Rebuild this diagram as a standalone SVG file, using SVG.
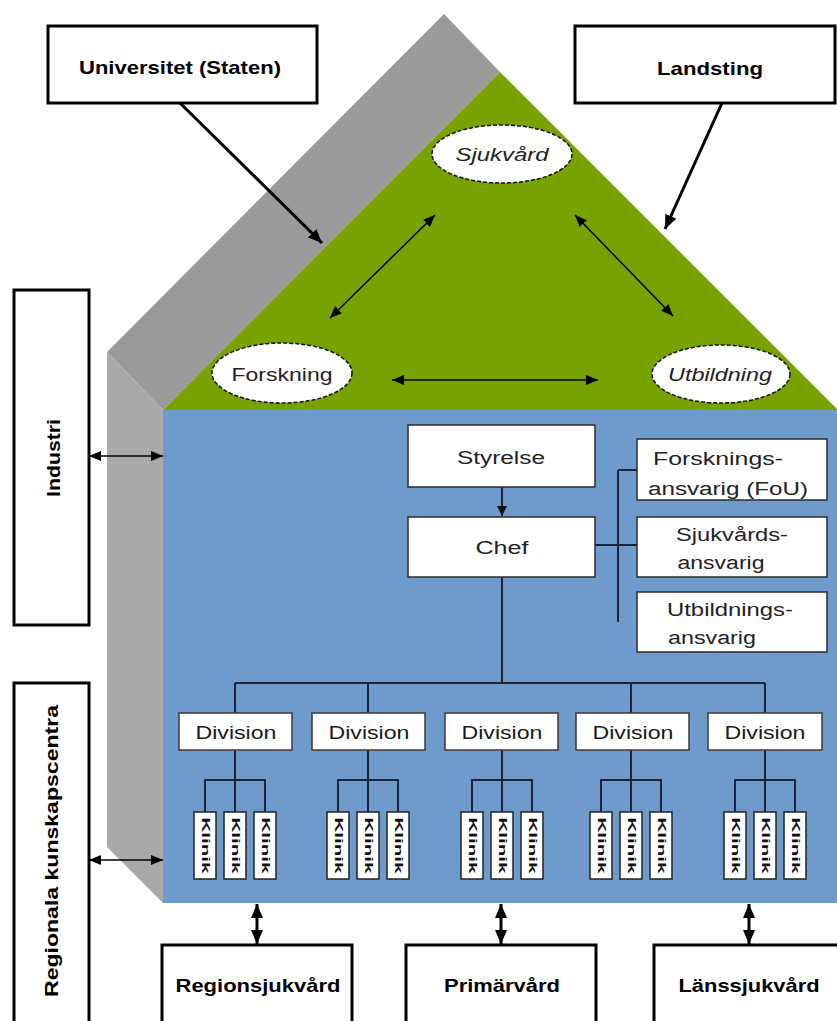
<svg xmlns="http://www.w3.org/2000/svg" width="837" height="1021" viewBox="0 0 837 1021">
<defs>
<style>
.bbox{fill:#fff;stroke:#000;stroke-width:3}
.btxt{font-family:"Liberation Sans",Arial,sans-serif;font-weight:bold;font-size:19px;fill:#000;text-anchor:middle}
.obox{fill:#fff;stroke:#2b2b2b;stroke-width:1.5}
.otxt{font-family:"Liberation Sans",Arial,sans-serif;font-size:18px;fill:#222;text-anchor:middle}
.dbox{fill:#fff;stroke:#3a3a3a;stroke-width:1.5}
.dtxt{font-family:"Liberation Sans",Arial,sans-serif;font-size:19px;fill:#1a1a1a;text-anchor:middle}
.cbox{fill:#fff;stroke:#222;stroke-width:1.5}
.ctxt{font-family:"Liberation Sans",Arial,sans-serif;font-size:11px;font-weight:bold;fill:#111;text-anchor:middle}
.ell{fill:#fff;stroke:#111;stroke-width:1.5;stroke-dasharray:4 2}
.etxt{font-family:"Liberation Sans",Arial,sans-serif;font-size:18px;fill:#222;text-anchor:middle}
.ln{stroke:#1b2438;stroke-width:2;fill:none}
.thin{stroke:#000;stroke-width:1.5;fill:none}
.thick{stroke:#000;stroke-width:3;fill:none}
</style>
<marker id="ah" viewBox="0 0 12 10" refX="12" refY="5" markerWidth="12" markerHeight="10" markerUnits="userSpaceOnUse" orient="auto-start-reverse"><path d="M0,0 L12,5 L0,10 z" fill="#000"/></marker>
<marker id="ahL" viewBox="0 0 14 12" refX="14" refY="6" markerWidth="14" markerHeight="12" markerUnits="userSpaceOnUse" orient="auto-start-reverse"><path d="M0,0 L14,6 L0,12 z" fill="#000"/></marker>
<marker id="ahS" viewBox="0 0 10 10" refX="10" refY="5" markerWidth="10" markerHeight="10" markerUnits="userSpaceOnUse" orient="auto-start-reverse"><path d="M0,0 L10,5 L0,10 z" fill="#111"/></marker>
</defs>

<g id="house">
<polygon points="107,352 444,14 500,72 163,410" fill="#9a9a9a"/>
<polygon points="107,352 163,410 163,903 107,847" fill="#a9a9a9"/>
<polygon points="500,72 838,410 163,410" fill="#77a200"/>
<rect x="163" y="410" width="675" height="493" fill="#6e9bcb"/>
</g>

<g id="connectors">
<line class="thick" x1="180" y1="103" x2="322" y2="243" marker-end="url(#ahL)"/>
<line class="thick" x1="722" y1="103" x2="665" y2="229" stroke-width="3.5" marker-end="url(#ahL)"/>
<line class="thin" x1="435" y1="215" x2="330" y2="318" marker-start="url(#ah)" marker-end="url(#ah)"/>
<line class="thin" x1="575" y1="215" x2="673" y2="316" marker-start="url(#ah)" marker-end="url(#ah)"/>
<line class="thin" x1="392" y1="380" x2="598" y2="380" marker-start="url(#ah)" marker-end="url(#ah)"/>
<line class="thin" x1="89" y1="456" x2="163" y2="456" stroke-width="2" marker-start="url(#ah)" marker-end="url(#ah)"/>
<line class="thin" x1="89" y1="860" x2="163" y2="860" stroke-width="2.5" marker-start="url(#ah)" marker-end="url(#ah)"/>
<line class="thick" x1="257" y1="904" x2="257" y2="944" marker-start="url(#ahL)" marker-end="url(#ahL)"/>
<line class="thick" x1="501" y1="904" x2="501" y2="944" marker-start="url(#ahL)" marker-end="url(#ahL)"/>
<line class="thick" x1="749" y1="904" x2="749" y2="944" marker-start="url(#ahL)" marker-end="url(#ahL)"/>
<line class="ln" x1="502" y1="487" x2="502" y2="516" marker-end="url(#ahS)"/>
<line class="ln" x1="502" y1="577" x2="502" y2="683"/>
<line class="ln" x1="618" y1="470" x2="618" y2="622"/>
<line class="ln" x1="618" y1="470" x2="637" y2="470"/>
<line class="ln" x1="595" y1="545" x2="637" y2="545"/>
<line class="ln" x1="235" y1="683" x2="765" y2="683"/>
<path class="ln" d="M235,683V713M368,683V713M631,683V713M765,683V713"/>
<path class="ln" d="M235,750V812M205,812V780H265V812M368,750V812M338,812V780H398V812M502,750V812M472,812V780H532V812M631,750V812M601,812V780H661V812M765,750V812M735,812V780H795V812"/>
</g>

<g id="node-universitet"><rect class="bbox" x="48" y="26" width="269" height="77"/><text class="btxt" x="180" y="74" textLength="202" lengthAdjust="spacingAndGlyphs">Universitet (Staten)</text></g>
<g id="node-landsting"><rect class="bbox" x="575" y="26" width="260" height="77"/><text class="btxt" x="710" y="75" textLength="106" lengthAdjust="spacingAndGlyphs">Landsting</text></g>

<g id="node-sjukvard"><ellipse class="ell" cx="502" cy="154" rx="70" ry="29"/><text class="etxt" x="502" y="161" font-style="italic" textLength="93" lengthAdjust="spacingAndGlyphs">Sjukvård</text></g>
<g id="node-forskning"><ellipse class="ell" cx="282" cy="373" rx="70" ry="30"/><text class="etxt" x="282" y="381" textLength="101" lengthAdjust="spacingAndGlyphs">Forskning</text></g>
<g id="node-utbildning"><ellipse class="ell" cx="721" cy="374" rx="69" ry="29"/><text class="etxt" x="720" y="381" font-style="italic" textLength="104" lengthAdjust="spacingAndGlyphs">Utbildning</text></g>

<g id="node-industri"><rect class="bbox" x="14" y="290" width="75" height="335"/><text class="btxt" transform="translate(60,458) rotate(-90)" textLength="78" lengthAdjust="spacingAndGlyphs">Industri</text></g>
<g id="node-regionala"><rect class="bbox" x="14" y="683" width="75" height="360"/><text class="btxt" transform="translate(58,851) rotate(-90)" textLength="292" lengthAdjust="spacingAndGlyphs">Regionala kunskapscentra</text></g>

<g id="node-styrelse"><rect class="obox" x="408" y="425" width="187" height="62"/><text class="otxt" x="501" y="464" font-size="19" textLength="88" lengthAdjust="spacingAndGlyphs">Styrelse</text></g>
<g id="node-chef"><rect class="obox" x="408" y="517" width="187" height="60"/><text class="otxt" x="502" y="554" font-size="19" textLength="53" lengthAdjust="spacingAndGlyphs">Chef</text></g>
<g id="node-forskningsansvarig"><rect class="obox" x="637" y="439" width="190" height="61"/><text class="otxt" x="718" y="465" textLength="130" lengthAdjust="spacingAndGlyphs">Forsknings-</text><text class="otxt" x="728" y="495" textLength="160" lengthAdjust="spacingAndGlyphs">ansvarig (FoU)</text></g>
<g id="node-sjukvardsansvarig"><rect class="obox" x="637" y="517" width="190" height="60"/><text class="otxt" x="732" y="541" textLength="112" lengthAdjust="spacingAndGlyphs">Sjukvårds-</text><text class="otxt" x="721" y="569" textLength="87" lengthAdjust="spacingAndGlyphs">ansvarig</text></g>
<g id="node-utbildningsansvarig"><rect class="obox" x="637" y="592" width="190" height="60"/><text class="otxt" x="730" y="616" textLength="126" lengthAdjust="spacingAndGlyphs">Utbildnings-</text><text class="otxt" x="712" y="644" textLength="88" lengthAdjust="spacingAndGlyphs">ansvarig</text></g>

<g id="node-division-1"><rect class="dbox" x="179" y="713" width="113" height="37"/><text class="dtxt" x="236" y="739" textLength="81" lengthAdjust="spacingAndGlyphs">Division</text></g>
<g id="node-division-2"><rect class="dbox" x="312" y="713" width="113" height="37"/><text class="dtxt" x="369" y="739" textLength="81" lengthAdjust="spacingAndGlyphs">Division</text></g>
<g id="node-division-3"><rect class="dbox" x="445" y="713" width="113" height="37"/><text class="dtxt" x="502" y="739" textLength="81" lengthAdjust="spacingAndGlyphs">Division</text></g>
<g id="node-division-4"><rect class="dbox" x="576" y="713" width="113" height="37"/><text class="dtxt" x="633" y="739" textLength="81" lengthAdjust="spacingAndGlyphs">Division</text></g>
<g id="node-division-5"><rect class="dbox" x="708" y="713" width="114" height="37"/><text class="dtxt" x="765" y="739" textLength="81" lengthAdjust="spacingAndGlyphs">Division</text></g>

<g id="node-klinik-1-1"><rect class="cbox" x="194" y="812" width="22" height="67"/><text class="ctxt" transform="translate(201.5,845.5) rotate(90)" textLength="56" lengthAdjust="spacingAndGlyphs">Klinik</text></g>
<g id="node-klinik-1-2"><rect class="cbox" x="224" y="812" width="22" height="67"/><text class="ctxt" transform="translate(231.5,845.5) rotate(90)" textLength="56" lengthAdjust="spacingAndGlyphs">Klinik</text></g>
<g id="node-klinik-1-3"><rect class="cbox" x="254" y="812" width="22" height="67"/><text class="ctxt" transform="translate(261.5,845.5) rotate(90)" textLength="56" lengthAdjust="spacingAndGlyphs">Klinik</text></g>
<g id="node-klinik-2-1"><rect class="cbox" x="327" y="812" width="22" height="67"/><text class="ctxt" transform="translate(334.5,845.5) rotate(90)" textLength="56" lengthAdjust="spacingAndGlyphs">Klinik</text></g>
<g id="node-klinik-2-2"><rect class="cbox" x="357" y="812" width="22" height="67"/><text class="ctxt" transform="translate(364.5,845.5) rotate(90)" textLength="56" lengthAdjust="spacingAndGlyphs">Klinik</text></g>
<g id="node-klinik-2-3"><rect class="cbox" x="387" y="812" width="22" height="67"/><text class="ctxt" transform="translate(394.5,845.5) rotate(90)" textLength="56" lengthAdjust="spacingAndGlyphs">Klinik</text></g>
<g id="node-klinik-3-1"><rect class="cbox" x="461" y="812" width="22" height="67"/><text class="ctxt" transform="translate(468.5,845.5) rotate(90)" textLength="56" lengthAdjust="spacingAndGlyphs">Klinik</text></g>
<g id="node-klinik-3-2"><rect class="cbox" x="491" y="812" width="22" height="67"/><text class="ctxt" transform="translate(498.5,845.5) rotate(90)" textLength="56" lengthAdjust="spacingAndGlyphs">Klinik</text></g>
<g id="node-klinik-3-3"><rect class="cbox" x="521" y="812" width="22" height="67"/><text class="ctxt" transform="translate(528.5,845.5) rotate(90)" textLength="56" lengthAdjust="spacingAndGlyphs">Klinik</text></g>
<g id="node-klinik-4-1"><rect class="cbox" x="590" y="812" width="22" height="67"/><text class="ctxt" transform="translate(597.5,845.5) rotate(90)" textLength="56" lengthAdjust="spacingAndGlyphs">Klinik</text></g>
<g id="node-klinik-4-2"><rect class="cbox" x="620" y="812" width="22" height="67"/><text class="ctxt" transform="translate(627.5,845.5) rotate(90)" textLength="56" lengthAdjust="spacingAndGlyphs">Klinik</text></g>
<g id="node-klinik-4-3"><rect class="cbox" x="650" y="812" width="22" height="67"/><text class="ctxt" transform="translate(657.5,845.5) rotate(90)" textLength="56" lengthAdjust="spacingAndGlyphs">Klinik</text></g>
<g id="node-klinik-5-1"><rect class="cbox" x="724" y="812" width="22" height="67"/><text class="ctxt" transform="translate(731.5,845.5) rotate(90)" textLength="56" lengthAdjust="spacingAndGlyphs">Klinik</text></g>
<g id="node-klinik-5-2"><rect class="cbox" x="754" y="812" width="22" height="67"/><text class="ctxt" transform="translate(761.5,845.5) rotate(90)" textLength="56" lengthAdjust="spacingAndGlyphs">Klinik</text></g>
<g id="node-klinik-5-3"><rect class="cbox" x="784" y="812" width="22" height="67"/><text class="ctxt" transform="translate(791.5,845.5) rotate(90)" textLength="56" lengthAdjust="spacingAndGlyphs">Klinik</text></g>

<g id="node-regionsjukvard"><rect class="bbox" x="162" y="945" width="190" height="90"/><text class="btxt" x="258" y="992" font-size="18" textLength="165" lengthAdjust="spacingAndGlyphs">Regionsjukvård</text></g>
<g id="node-primarvard"><rect class="bbox" x="406" y="945" width="190" height="90"/><text class="btxt" x="502" y="992" font-size="18" textLength="116" lengthAdjust="spacingAndGlyphs">Primärvård</text></g>
<g id="node-lanssjukvard"><rect class="bbox" x="654" y="945" width="200" height="90"/><text class="btxt" x="749" y="992" font-size="18" textLength="141" lengthAdjust="spacingAndGlyphs">Länssjukvård</text></g>
</svg>
